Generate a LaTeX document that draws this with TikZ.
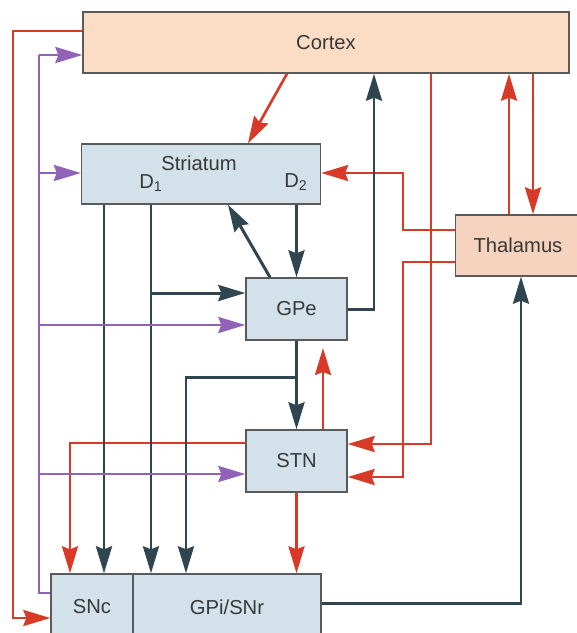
\documentclass[tikz,border=0pt]{standalone}
\usepackage{fontspec}
\setmainfont{Liberation Sans}
\usetikzlibrary{arrows.meta}
\definecolor{exred}{HTML}{D93A27}
\definecolor{inhdark}{HTML}{2F4550}
\definecolor{dapurple}{HTML}{9062B8}
\definecolor{ctxfill}{HTML}{FBDCC5}
\definecolor{thalfill}{HTML}{F5D3BE}
\definecolor{bgfill}{HTML}{D3E1EB}
\definecolor{boxline}{HTML}{5A5A5A}
\definecolor{txt}{HTML}{383838}

\begin{document}
\begin{tikzpicture}[x=0.02cm, y=-0.02cm,
  every node/.style={font=\fontsize{11.5}{13}\selectfont, text=txt, align=center},
  region/.style={draw=boxline, line width=0.8pt, inner sep=0pt},
  tip/.style={-{Stealth[length=0.54cm, width=0.32cm, inset=0.06cm]}},
  exc/.style={draw=exred, line width=1.5pt},
  inh/.style={draw=inhdark, line width=1.7pt},
  dopa/.style={draw=dapurple, line width=1.5pt}]
\useasboundingbox (0,0) rectangle (577,633);

% nuclei
\node[region, fill=ctxfill, minimum width=9.72cm, minimum height=1.22cm] (cortex) at (326,42.5) {Cortex};
\node[region, fill=bgfill, minimum width=4.78cm, minimum height=1.2cm] (striatum) at (201,174) {};
\node (stlabel) at (199,163) {Striatum};
\node (d1) at (151,183) {D\textsubscript{1}};
\node (d2) at (296,182) {D\textsubscript{2}};
\node[region, fill=thalfill, minimum width=2.5cm, minimum height=1.22cm] (thalamus) at (518,245.5) {Thalamus};
\node[region, fill=bgfill, minimum width=2.02cm, minimum height=1.24cm] (gpe) at (296.5,309) {GPe};
\node[region, fill=bgfill, minimum width=2.02cm, minimum height=1.24cm] (stn) at (296.5,461) {STN};
\node[region, fill=bgfill, minimum width=1.64cm, minimum height=1.32cm] (snc) at (92,607) {SNc};
\node[region, fill=bgfill, minimum width=3.76cm, minimum height=1.32cm] (gpi) at (227,607) {GPi/SNr};

% excitatory
\draw[exc, tip] (cortex.west |- 0,31) -- (13,31) |- (snc.west |- 0,618);
\draw[exc, tip] (cortex.south -| 287,0) -- (striatum.north -| 248,0);
\draw[exc, tip] (thalamus.west |- 0,230) -| (403,173) -- (striatum.east |- 0,173);
\draw[exc, tip] (cortex.south -| 533,0) -- (thalamus.north -| 533,0);
\draw[exc, tip] (thalamus.north -| 509,0) -- (cortex.south -| 509,0);
\draw[exc, tip] (cortex.south -| 431,0) |- (stn.east |- 0,444);
\draw[exc, tip] (thalamus.west |- 0,262) -| (403,477) -- (stn.east |- 0,477);
\draw[exc, tip] (stn.north -| 323,0) -- (323,348);
\draw[exc, tip] (stn.west |- 0,443) -| (snc.north -| 70,0);
\draw[exc, tip] (stn.south) -- (gpi.north -| stn.south);

% inhibitory
\draw[inh, tip] (striatum.south -| 104,0) -- (snc.north -| 104,0);
\draw[inh, tip] (striatum.south -| 151,0) -- (gpi.north -| 151,0);
\draw[inh, tip] (151,293) -- (gpe.west |- 0,293);
\draw[inh, tip] (gpe.north |- striatum.south) -- (gpe.north);
\draw[inh, tip] (gpe.north -| 270,0) -- (striatum.south -| 228,0);
\draw[inh, tip] (gpe.east) -| (cortex.south -| 374,0);
\draw[inh, tip] (gpe.south) -- (stn.north);
\draw[inh, tip] (gpe.south |- 0,377) -| (gpi.north -| 186,0);
\draw[inh, tip] (gpi.east |- 0,603) -| (thalamus.south -| 521,0);

% dopaminergic
\draw[dopa] (39,55) -- (39,593) -- (snc.west |- 0,593);
\foreach \n/\yy in {cortex/55, striatum/173, gpe/325, stn/474}
  \draw[dopa, tip] (39,\yy) -- (\n.west |- 0,\yy);
\end{tikzpicture}
\end{document}
